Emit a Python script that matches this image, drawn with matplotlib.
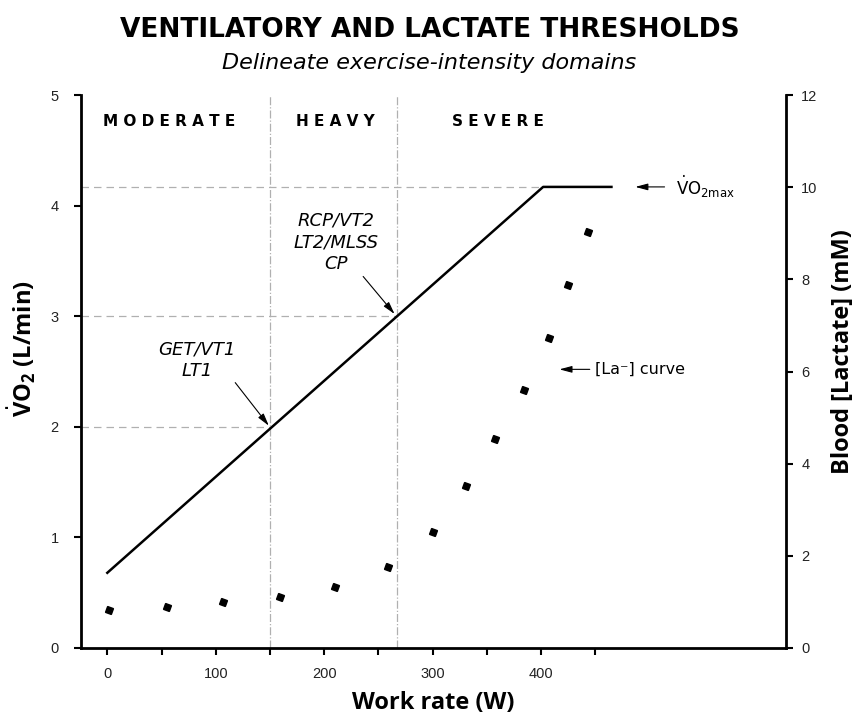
import matplotlib.pyplot as plt

plt.rcParams['mathtext.fontset'] = 'custom'
plt.rcParams['mathtext.rm'] = 'DejaVu Sans'
plt.rcParams['mathtext.bf'] = 'Open Sans:bold'

# VO2 response (L/min) vs work rate (W)
work_rate = [0, 402, 465]
vo2 = [0.68, 4.17, 4.17]

# blood lactate (mM) vs work rate (W)
lactate_work = [2, 55, 107, 159, 210, 259, 300, 331, 358, 384, 407, 425, 443]
lactate_mm = [0.83, 0.90, 1.00, 1.11, 1.32, 1.75, 2.52, 3.51, 4.54, 5.61, 6.73, 7.88, 9.03]

# thresholds
get_w, rcp_w, max_w = 150, 267, 402
get_vo2, rcp_vo2, max_vo2 = 2.0, 3.0, 4.17

domains = ['MODERATE', 'HEAVY', 'SEVERE']
domain_x = [57, 210, 360]

xmin, xmax = -24.5, 626

fig = plt.figure(figsize=(8.59, 7.18), dpi=100)
ax = fig.add_axes([0.094, 0.0975, 0.821, 0.770])
ax2 = ax.twinx()

grey = '#b0b0b0'
ax.vlines([get_w, rcp_w], 0, 5, colors=grey, linestyles='-.', lw=0.9, zorder=1)
ax.hlines([get_vo2, rcp_vo2, max_vo2], xmin, [get_w, rcp_w, max_w],
          colors=grey, linestyles=(0, (6, 4)), lw=0.9, zorder=1)

ax.plot(work_rate, vo2, color='black', lw=1.8, zorder=3)
ax2.plot(lactate_work, lactate_mm, ls='none', marker=(4, 0, 25), ms=6.3,
         color='black', zorder=3)

ax.set_xlim(xmin, xmax)
ax.set_ylim(0, 5)
ax2.set_ylim(0, 12)

xt = list(range(0, 451, 50))
ax.set_xticks(xt)
ax.set_xticklabels([str(v) if v % 100 == 0 else '' for v in xt])
ax.set_yticks(range(0, 6))
ax2.set_yticks(range(0, 13, 2))

for s in ['top', 'right']:
    ax.spines[s].set_visible(False)
for s in ['top', 'left', 'bottom']:
    ax2.spines[s].set_visible(False)
ax.spines['left'].set_linewidth(2)
ax.spines['bottom'].set_linewidth(2)
ax2.spines['right'].set_linewidth(2)

ax.tick_params(axis='x', direction='out', length=5, width=1.5, labelsize=10.5,
               pad=9, labelcolor='#222222')
ax.tick_params(axis='y', direction='out', length=5, width=1.5, labelsize=10.5,
               pad=11, labelcolor='#222222')
ax2.tick_params(axis='y', direction='out', length=5, width=1.5, labelsize=10.5,
                pad=6, labelcolor='#222222')
for lab in ax.get_xticklabels() + ax.get_yticklabels() + ax2.get_yticklabels():
    lab.set_family('Liberation Sans')

# domain names
for name, x in zip(domains, domain_x):
    ax.text(x, 4.76, ' '.join(name), ha='center', va='center',
            fontsize=11, fontweight='bold')

arrow = dict(arrowstyle='-|>,head_length=0.75,head_width=0.2', lw=0.8,
             color='black', shrinkA=0, shrinkB=0)

ax.text(83, 2.605, 'GET/VT1\nLT1', ha='center', va='center', fontsize=13,
        fontstyle='italic', linespacing=1.25)
ax.annotate('', xy=(149, 2.01), xytext=(118, 2.40), arrowprops=arrow)

ax.text(211, 3.67, 'RCP/VT2\nLT2/MLSS\nCP', ha='center', va='center',
        fontsize=13, fontstyle='italic', linespacing=1.25)
ax.annotate('', xy=(265, 3.02), xytext=(236, 3.36), arrowprops=arrow)

ax.annotate('', xy=(487, max_vo2), xytext=(514, max_vo2), arrowprops=arrow)
ax.text(525, max_vo2, r'$\dot{\mathrm{V}}\mathrm{O}_{\mathrm{2max}}$',
        ha='left', va='center', fontsize=12)

ax.annotate('', xy=(417, 2.52), xytext=(445, 2.52), arrowprops=arrow)
ax.text(450, 2.52, '[La⁻] curve', ha='left', va='center', fontsize=11.5)

# titles and axis labels
fig.text(0.5, 1 - 30 / 718, 'VENTILATORY AND LACTATE THRESHOLDS', ha='center',
         va='center', fontsize=19, fontweight='bold')
fig.text(0.5, 1 - 63 / 718, 'Delineate exercise-intensity domains', ha='center',
         va='center', fontsize=16, fontstyle='italic')
fig.text(22 / 859, 1 - 349 / 718, r'$\dot{\mathbf{V}}\mathbf{O}_\mathbf{2}$ (L/min)',
         rotation=90, ha='center', va='center', fontsize=17, fontweight='bold',
         family='Open Sans')
fig.text(843 / 859, 1 - 352 / 718, 'Blood [Lactate] (mM)', rotation=90,
         ha='center', va='center', fontsize=17, fontweight='bold',
         family='Open Sans')
fig.text(433 / 859, 1 - 703 / 718, 'Work rate (W)', ha='center', va='center',
         fontsize=17, fontweight='bold', family='Open Sans')

plt.savefig('out.png', dpi=100)
